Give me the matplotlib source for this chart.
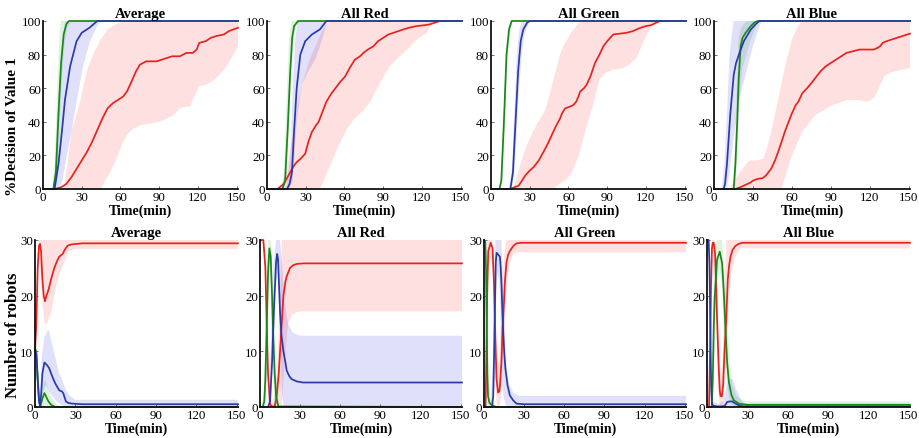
import matplotlib
matplotlib.use("Agg")
import matplotlib.pyplot as plt

plt.rcParams['font.family'] = ['Liberation Serif', 'DejaVu Serif']

# ---------------- DATA (time in min, value) ----------------
times_ticks = [0, 30, 60, 90, 120, 150]
top_yticks = [0, 20, 40, 60, 80, 100]
bot_yticks = [0, 10, 20, 30]
titles = ["Average", "All Red", "All Green", "All Blue"]

# ---- Top row: % decision of value 1 ----
# Average
ta_g_mean = [(0,0),(8,0),(10,10),(12,45),(14,75),(16,92),(18,98),(20,100),(151,100)]
ta_g_lo = [(0,0),(9,0),(11,8),(13,40),(15,70),(17,88),(19,96),(22,100),(151,100)]
ta_g_hi = [(0,0),(7,0),(9,15),(11,60),(13,95),(14,100),(151,100)]
ta_b_mean = [(0,0),(9,0),(12,15),(15,37),(17,53),(21,73),(26,88),(30,93),(36,96),(42,100),(151,100)]
ta_b_lo = [(0,0),(12,0),(15,5),(18,18),(22,34),(26,52),(31,73),(36,87),(42,97),(45,100),(151,100)]
ta_b_hi = [(0,0),(8,0),(11,30),(14,70),(17,100),(151,100)]
ta_r_mean = [(0,0),(9,0),(14,1),(18,3),(22,7),(26,12),(30,17),(34,22),(38,28),(42,35),(46,42),(50,48),
             (54,51),(58,53),(62,55),(65,58),(68,63),(72,70),(75,74),(80,76),(88,76),(92,77),(96,78),
             (100,79),(106,79),(111,81),(116,81),(119,83),(121,87),(126,88),(130,90),(134,91),(140,92),
             (144,94),(151,96)]
ta_r_hi = [(0,0),(16,0),(19,15),(22,34),(26,45),(29,53),(32,64),(35,73),(40,82),(44,88),(50,95),(56,98),(62,100),(151,100)]
ta_r_lo = [(0,0),(45,0),(48,5),(52,10),(57,18),(62,28),(66,33),(70,36),(76,38),(83,39),(90,40),(96,42),
           (101,44),(106,48),(110,49),(114,49),(117,55),(121,61),(126,62),(131,64),(137,68),(142,73),(146,78),(151,85)]

# All Red
tr_g_mean = [(0,0),(12,0),(14,5),(16,35),(18,70),(19.5,90),(21,97),(24,100),(151,100)]
tr_g_lo = [(0,0),(13,0),(15,5),(17,35),(19,70),(21,90),(23,97),(26,100),(151,100)]
tr_g_hi = [(0,0),(11,0),(13,10),(15,50),(17,88),(19,100),(151,100)]
tr_b_mean = [(0,0),(15.5,0),(17.5,3),(19.3,10),(21,35),(23,60),(25.8,80),(29.6,88),(34.8,92),(41,95),(46,100),(151,100)]
tr_b_lo = [(0,0),(17,0),(20,5),(23,40),(27,62),(32,70),(38,78),(43,90),(47,100),(151,100)]
tr_b_hi = [(0,0),(15,0),(18,20),(20,60),(22,90),(24,100),(151,100)]
tr_r_mean = [(0,0),(8,0),(13,3),(18,10),(21,14),(23,16),(26,18),(29.6,21),(32,28),(34.8,34),(38,38),(40,40),
             (43,46),(46,52),(50,57),(54,61),(57,64),(60.5,67),(64,72),(68,77),(72,79),(74.7,81),(78,83),
             (82.5,85),(86,88),(90,90),(94,92),(98,93),(105.7,95),(110,96),(116,97),(122,97.5),(126,98),
             (130,99),(134,100),(151,100)]
tr_r_hi = [(0,0),(10,0),(15,10),(19,28),(21,38),(23,47),(27,62),(33,77),(38,86),(42,93),(46,98),(49,100),(151,100)]
tr_r_lo = [(0,0),(41,0),(45,7),(49,14),(55,25),(62,36),(68,42),(75,47),(80,52),(84,58),(87.6,63),(91,68),
           (95,73),(100,77),(105.7,81),(111,85),(116,89),(120,91),(124,93),(127.6,99),(130,100),(151,100)]

# All Green
tg_g_mean = [(0,0),(6.5,0),(8,5),(10,40),(12,80),(14,95),(16,100),(151,100)]
tg_g_lo = [(0,0),(7,0),(9,5),(11,40),(13,80),(15,95),(17,100),(151,100)]
tg_g_hi = [(0,0),(6,0),(7.5,5),(9.5,40),(11.5,80),(13,95),(15,100),(151,100)]
tg_b_mean = [(0,0),(15,0),(17,10),(19,40),(21,70),(23,88),(25,95),(28,99),(30,100),(151,100)]
tg_b_lo = [(0,0),(16,0),(18,8),(20,35),(22,62),(24,82),(26,92),(29,98),(31,100),(151,100)]
tg_b_hi = [(0,0),(14,0),(16,10),(18,45),(20,80),(22,95),(24,100),(151,100)]
tg_r_mean = [(0,0),(15,0),(18,1),(21.4,2),(24,5),(26.5,8),(30,11),(33,13),(37,17),(40.6,22),(44,27),(47,32),
             (50,37),(53.5,42),(55,45),(57.4,48),(61,49),(63.8,50),(66,52),(67.7,55),(69,58),(72,60),(74,62),
             (77,67),(80.5,75),(84,80),(87,85),(90,88),(94.7,92),(100,92.5),(105,93),(110,94),(112.7,95),
             (116,96),(120,97),(124,97.5),(128,99),(131,100),(151,100)]
tg_r_hi = [(0,0),(17,0),(21,10),(26.5,24),(30,30),(35,38),(42,47),(46,58),(50,70),(53,79),(56,85),(62,93),(66,97),(70,100),(151,100)]
tg_r_lo = [(0,0),(48,0),(53,3),(58.6,6),(62,9),(65,14),(68,20),(71.5,30),(75,40),(78,47),(81,56),(84,65),
           (88,69),(94.7,71),(102,72),(107,74),(112.7,78),(116,84),(120,91),(124,96),(128,100),(151,100)]

# All Blue
tb_b_mean = [(0,0),(7.4,0),(8.5,3),(10,15),(12.6,45),(15.2,68),(17,75),(19.2,80),(23,88),(28.4,95),(32,98),(35,100),(151,100)]
tb_b_lo = [(0,0),(10,0),(12,10),(15,30),(20,55),(25,70),(30,85),(33,92),(35,97),(37,100),(151,100)]
tb_b_hi = [(0,0),(6,0),(8,15),(10,45),(12,80),(15,100),(151,100)]
tb_g_mean = [(0,0),(15.2,0),(16.5,15),(17.9,40),(19,65),(20.5,85),(22,90),(24.4,93),(28.4,97),(31,99),(33.6,100),(151,100)]
tb_g_lo = [(0,0),(16,0),(17.5,15),(19,40),(20.5,62),(22,72),(25,80),(28,88),(31,94),(34,100),(151,100)]
tb_g_hi = [(0,0),(14.5,0),(16,25),(17.5,60),(19,90),(21,96),(24,99),(27,100),(151,100)]
tb_r_mean = [(0,0),(16.5,0),(20,1),(23,2),(28.4,4),(30,5),(33.6,6),(37.5,6.5),(40,8),(44,12),(47,17),(49.4,22),
             (52,28),(55,35),(58,41),(60,45),(63,50),(65,52),(68,57),(71.7,60),(75,63),(78,66),(82,70),(86,73),
             (90,75),(94,77),(98,79),(102,81),(107,82),(112,83),(118,83),(123,83),(126,84),(128,85),(130,87),
             (133,88),(137,89),(141,90),(145,91),(149,92),(151,92.5)]
tb_r_hi = [(0,0),(12,0),(16,5),(20,10),(24,14),(27,17),(32,17),(38,18),(41,25),(44,34),(48,48),(52,63),(56,77),(60,89),(64,96),(68,100),(151,100)]
tb_r_lo = [(0,0),(52,0),(56,10),(60,20),(64,27),(68,34),(73,39),(78,44),(85,47),(91,50),(96,51),(102,53),
           (110,53),(118,52),(121,53),(124,55),(127,60),(131,67),(135,69),(139,70),(145,71),(151,72)]

# ---- Bottom row: number of robots ----
# Average
ba_r_mean = [(0,10),(1,15),(2,25),(3,29),(3.7,29.3),(4.5,28),(5.5,23),(6.5,20),(7.4,19),(8.5,20),(10,21),
             (12,23),(14.4,25),(16,26),(18,27),(20.6,27.5),(22,28.2),(24.3,29),(27,29.2),(35,29.4),(151,29.4)]
ba_r_hi = [(0,12),(2,28),(3,30),(151,30)]
ba_r_lo = [(0,8),(2,22),(3.5,27),(5,20),(7,15),(9,15),(12,17),(16,22),(20,25),(25,28),(30,28.4),(151,28.4)]
ba_b_mean = [(0,10),(1,9.5),(2,5),(3,1),(3.7,0.3),(4.5,2),(5.5,6),(7,8),(9,7.5),(10.5,7),(12,6),(14,4.8),
             (15.6,4),(18,3),(20,2.8),(21,2.5),(23,1),(25,0.7),(28,0.6),(35,0.5),(151,0.5)]
ba_b_hi = [(0,13),(2,8),(3.7,2),(5,9),(7,12.5),(10,14),(12,12),(15,9),(18,6),(20,5),(23,3),(26,2),(30,1.3),(151,1.3)]
ba_b_lo = [(0,8),(2,3),(3.7,0),(6,2.5),(8,4),(10,3),(13,2),(16,1),(20,0.3),(25,0),(151,0)]
ba_g_mean = [(0,10.5),(1,10),(2,5),(3,1),(4,0.1),(5.5,1.5),(7,2.5),(8,2),(10,1),(12,0.4),(15,0),(151,0)]
ba_g_hi = [(0,13),(2,8),(4,1),(6,4),(7.5,5),(10,3),(13,1.5),(16,0.5),(20,0),(151,0)]
ba_g_lo = [(0,8),(2,3),(4,0),(151,0)]

# All Red
br_r_mean = [(0,30),(2.5,30),(4,25),(5,15),(6,6),(7.5,0.5),(9,0.1),(11,0.1),(12.5,2),(14,6),(15,10),(16,14),
             (17.5,20),(19,22.5),(20,23.5),(22.5,25),(25,25.5),(27.5,25.7),(32.5,25.8),(151,25.8)]
br_r_hi = [(0,30),(3,30),(5,20),(7,3),(9,1),(11,2),(13,8),(15,20),(16.5,30),(151,30)]
br_r_lo = [(0,30),(3,29),(4.5,20),(6,5),(7.5,0),(16,0),(18,6),(19.5,11),(21,15),(24,16.5),(28,17.1),(32,17.2),(151,17.2)]
br_b_mean = [(0,0),(6,0),(7.5,1),(9,8),(10.5,18),(12,26),(12.8,27.5),(13.5,26.5),(15,17),(16,13),(17.5,10),
             (19,8),(20,6.5),(22,5.5),(23.7,5),(27.5,4.6),(32,4.4),(151,4.4)]
br_b_hi = [(0,0),(6,0),(8,10),(10,25),(12,30),(15,30),(17,24),(19,18),(21,15),(24,13.5),(28,12.9),(32,12.8),(151,12.8)]
br_b_lo = [(0,0),(8,0),(10,10),(12,22),(13.5,24),(15,12),(16.5,2),(18,0),(151,0)]
br_g_mean = [(0,0),(2,0),(3.2,1),(4,5),(5,14),(6,24),(7,28.5),(8,27),(9,20),(10,12),(11,6),(12,2),(13.7,0.1),(151,0)]
br_g_hi = [(0,0),(2,0),(3,4),(4,14),(5,25),(6,30),(8,30),(9,27),(10,20),(11,12),(12,5),(13.5,1),(15,0),(151,0)]
br_g_lo = [(0,0),(4,0),(5,5),(6,16),(7,25),(8,22),(9,12),(10,5),(11,1),(12,0),(151,0)]

# All Green
bg_g_mean = [(0,30),(1,29.7),(1.5,25),(2,15),(2.5,6),(3,2),(4,0.8),(5,0.5),(6,0.3),(8,0.1),(10,0),(151,0)]
bg_g_hi = [(0,30),(1.5,29),(2.5,18),(3.5,6),(4.5,2),(6,1),(8,0.3),(10,0),(151,0)]
bg_g_lo = [(0,30),(0.8,28),(1.5,15),(2.2,3),(3,0.3),(4,0),(151,0)]
bg_r_mean = [(0,0),(1.2,0),(1.8,10),(2.5,22),(3.2,28),(5,29.5),(6.4,28.5),(7.5,22),(8.5,12),(9.4,5),(10.5,2.6),
             (11.5,2.8),(12,4),(13,8),(13.9,14),(15,19),(15.6,22.4),(16.8,26),(18,27.3),(19.3,28),(21.8,28.9),
             (24.3,29.4),(28,29.5),(151,29.5)]
bg_r_hi = [(0,0),(1,0),(1.5,15),(2.5,30),(6,30),(7.5,27),(8.5,20),(9.5,12),(10.5,8),(11.5,8),(12.5,15),(13.5,22),(15,27),(16.5,30),(151,30)]
bg_r_lo = [(0,0),(2,2),(3,20),(4.5,27),(6.5,25),(7.5,15),(8.5,4),(9.5,0.5),(11,0),(12,0.5),(13,3),(14,8),(15,13),
           (16.5,20),(18,24),(20,26.5),(22,27.5),(25,27.8),(151,27.8)]
bg_b_mean = [(0,0),(6,0),(6.9,2),(7.6,10),(8.3,20),(8.8,26),(9.4,27.7),(10.5,27.4),(11.9,27),(12.5,25),(13.1,21.8),
             (13.8,17),(14.4,13.4),(15.2,9.5),(16,6.9),(17.6,3.9),(19.3,2.1),(21.8,1.2),(24.3,0.6),(30,0.5),(151,0.5)]
bg_b_hi = [(0,0),(5,0),(6.5,8),(7.5,20),(8.5,30),(13,30),(14,24),(15,17),(16,11),(17,7),(19,4),(22,2.5),(26,2),(151,2)]
bg_b_lo = [(0,0),(7,0),(8,5),(9,18),(10,24),(11.5,23),(12.5,15),(13.5,6),(14.5,2),(16,0.5),(18,0),(151,0)]

# All Blue
bb_b_mean = [(0,30),(1.2,30),(1.8,26),(2.3,18),(2.8,8),(3.2,3),(3.7,0.5),(5,0.2),(8,0.1),(11,0.1),(13,0.2),(14,0.5),
             (15,0.9),(17,1),(18.7,1),(20,0.8),(22,0.5),(23.7,0.3),(26,0.15),(30,0.1),(151,0.1)]
bb_b_hi = [(0,30),(1.5,30),(2.5,20),(3.5,5),(4.5,1),(8,0.5),(12,1),(14,3),(16,5),(19,5),(22,3),(25,1.5),(28,0.5),(151,0.4)]
bb_b_lo = [(0,30),(1,29),(2,20),(3,2),(4,0),(151,0)]
bb_r_mean = [(0,0),(1.5,0),(2.3,10),(3,22),(3.7,28.5),(4.3,29.5),(5,29.5),(6,27.5),(6.5,24),(7.5,15.8),(8.75,6.9),
             (9.5,3),(10,2),(11,1.9),(12,4),(13,9.8),(14.3,15.8),(15.5,23),(16.5,25.5),(17.5,27),(19,28.2),
             (21,28.9),(23.5,29.3),(26,29.5),(151,29.5)]
bb_r_hi = [(0,0),(1.5,0),(2.5,20),(3.5,30),(5.5,30),(6.5,28),(7.5,23),(8.5,15),(9.5,8),(10.5,6),(11.5,8),(12.5,15),(13.5,24),(14.5,30),(151,30)]
bb_r_lo = [(0,0),(2.5,3),(3.5,20),(4.5,28),(5.5,27),(6.5,20),(7.5,10),(8.5,3),(9.5,0),(11.5,0),(12.5,2),(13.5,6),
           (14.5,11),(16,18),(18,24),(21,27),(25,28.5),(151,28.5)]
bb_g_mean = [(0,0),(3.5,0),(4.3,5),(5,14),(5.6,19),(6.25,21.8),(7.5,26.5),(9.5,27.9),(11.25,25.8),(12.5,20.6),
             (13.75,14),(15,8),(16.25,4.5),(18.25,2.1),(20,1.2),(23.75,0.6),(30,0.4),(151,0.4)]
bb_g_hi = [(0,0),(3,0),(4,10),(5,24),(6,29),(7.5,30),(11,30),(12.5,26),(14,20),(15.5,14),(17,8),(19,4),(22,2),(26,1.2),(30,1),(151,1)]
bb_g_lo = [(0,0),(4.5,0),(5.5,8),(6.5,16),(8,23),(9.5,25),(11,22),(12.5,14),(14,7),(15.5,3),(17,1),(19,0),(151,0)]

# ---------------- STYLE ----------------
RED = '#e8221e'
GREEN = '#188818'
BLUE = '#2a3aa8'
FILL = {'r': ('#ff0000', 0.12), 'g': ('#00a000', 0.13), 'b': ('#1010e0', 0.13)}
LINE = {'r': RED, 'g': GREEN, 'b': BLUE}

top_panels = [
    {'r': (ta_r_mean, ta_r_lo, ta_r_hi), 'g': (ta_g_mean, ta_g_lo, ta_g_hi), 'b': (ta_b_mean, ta_b_lo, ta_b_hi)},
    {'r': (tr_r_mean, tr_r_lo, tr_r_hi), 'g': (tr_g_mean, tr_g_lo, tr_g_hi), 'b': (tr_b_mean, tr_b_lo, tr_b_hi)},
    {'r': (tg_r_mean, tg_r_lo, tg_r_hi), 'g': (tg_g_mean, tg_g_lo, tg_g_hi), 'b': (tg_b_mean, tg_b_lo, tg_b_hi)},
    {'r': (tb_r_mean, tb_r_lo, tb_r_hi), 'g': (tb_g_mean, tb_g_lo, tb_g_hi), 'b': (tb_b_mean, tb_b_lo, tb_b_hi)},
]
bot_panels = [
    {'r': (ba_r_mean, ba_r_lo, ba_r_hi), 'g': (ba_g_mean, ba_g_lo, ba_g_hi), 'b': (ba_b_mean, ba_b_lo, ba_b_hi)},
    {'r': (br_r_mean, br_r_lo, br_r_hi), 'g': (br_g_mean, br_g_lo, br_g_hi), 'b': (br_b_mean, br_b_lo, br_b_hi)},
    {'r': (bg_r_mean, bg_r_lo, bg_r_hi), 'g': (bg_g_mean, bg_g_lo, bg_g_hi), 'b': (bg_b_mean, bg_b_lo, bg_b_hi)},
    {'r': (bb_r_mean, bb_r_lo, bb_r_hi), 'g': (bb_g_mean, bb_g_lo, bb_g_hi), 'b': (bb_b_mean, bb_b_lo, bb_b_hi)},
]

W, H = 920, 439
fig = plt.figure(figsize=(W / 100, H / 100), dpi=100)

def px_axes(x0, x1, ytop, ybot):
    return fig.add_axes([x0 / W, 1 - ybot / H, (x1 - x0) / W, (ybot - ytop) / H])

top_x = [(43, 238), (267, 462), (491, 686), (714, 910)]
bot_x = [(35, 238), (260, 462), (484, 686), (707, 910)]

def draw(ax, panel, ymax, yticks):
    for c in ['r', 'g', 'b']:
        mean, lo, hi = panel[c]
        th, vh = zip(*hi)
        tl, vl = zip(*lo)
        col, a = FILL[c]
        ax.fill(list(th) + list(tl[::-1]), list(vh) + list(vl[::-1]),
                color=col, alpha=a, lw=0, zorder=1)
    for c in ['r', 'g', 'b']:
        mean = panel[c][0]
        t, v = zip(*mean)
        ax.plot(t, v, color=LINE[c], lw=1.25, zorder=3, clip_on=False)
    ax.set_xlim(0, 151)
    ax.set_ylim(0, ymax)
    ax.set_xticks(times_ticks)
    ax.set_yticks(yticks)
    for s in ['top', 'right']:
        ax.spines[s].set_visible(False)
    for s in ['left', 'bottom']:
        ax.spines[s].set_linewidth(1.3)
        ax.spines[s].set_color('#111111')
        ax.spines[s].set_zorder(4)
    ax.tick_params(direction='in', length=2.5, width=0.6, color='#555555',
                   labelsize=9.3, pad=1.5)
    ax.set_xlabel("Time(min)", fontsize=10, fontweight='bold', labelpad=0.5)

for i in range(4):
    ax = px_axes(top_x[i][0], top_x[i][1], 22, 190)
    draw(ax, top_panels[i], 100, top_yticks)
    ax.set_title(titles[i], fontsize=10.5, fontweight='bold', pad=3)
    ax = px_axes(bot_x[i][0], bot_x[i][1], 241, 408)
    draw(ax, bot_panels[i], 30, bot_yticks)
    ax.set_title(titles[i], fontsize=10.5, fontweight='bold', pad=3)

fig.text(13 / W, 1 - 127 / H, "%Decision of Value 1", rotation=90, fontsize=11,
         fontweight='bold', ha='center', va='center')
fig.text(13 / W, 1 - 335 / H, "Number of robots", rotation=90, fontsize=12,
         fontweight='bold', ha='center', va='center')

fig.savefig("out.png", dpi=100)
